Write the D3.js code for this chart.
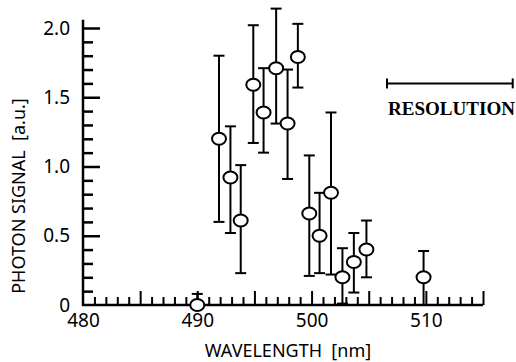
<!DOCTYPE html>
<html>
<head>
<meta charset="utf-8">
<script src="https://cdn.jsdelivr.net/npm/d3@7"></script>
<style>
  body { margin: 0; background: #fff; }
  svg text { font-family: "Noto Sans", "Open Sans", sans-serif; fill: #000; white-space: pre; }
</style>
</head>
<body>
<div id="chart"></div>
<script>
// data
const wavelength = [490, 491.9, 492.9, 493.8, 494.9, 495.8, 496.9, 497.9, 498.8, 499.8, 500.7, 501.7, 502.7, 503.7, 504.8, 509.8];
const signal     = [0, 1.20, 0.92, 0.61, 1.59, 1.39, 1.71, 1.31, 1.79, 0.66, 0.50, 0.81, 0.20, 0.31, 0.40, 0.20];
const errLow     = [0, 0.60, 0.52, 0.23, 1.17, 1.10, 1.31, 0.91, 1.57, 0.21, 0.23, 0.22, 0.01, 0.09, 0.20, 0];
const errHigh    = [0.08, 1.80, 1.29, 1.01, 2.02, 1.71, 2.14, 1.70, 2.03, 1.08, 0.81, 1.39, 0.41, 0.52, 0.61, 0.39];

const xMajor = [480, 490, 500, 510];
const yMajor = [0, 0.5, 1.0, 1.5, 2.0];
const yLabels = ["0", "0.5", "1.0", "1.5", "2.0"];

// resolution bar (nm span, at signal level)
const resolution = {from: 506.6, to: 517.6, level: 1.6};

const W = 516, H = 362;
const margin = {top: 28, right: 33, bottom: 57, left: 83};

const svg = d3.select("#chart")
  .append("svg")
  .attr("width", W)
  .attr("height", H);

const x = d3.scaleLinear().domain([480, 515]).range([margin.left, W - margin.right]);
const y = d3.scaleLinear().domain([0, 2]).range([H - margin.bottom, margin.top]);

const data = wavelength.map((w, i) => ({w, s: signal[i], lo: errLow[i], hi: errHigh[i]}));

// x axis: minor ticks every 1 nm, longer every 5 nm, pointing up
const xAxisG = svg.append("g").attr("transform", `translate(0, ${y(0)})`);
xAxisG.append("g")
  .call(d3.axisBottom(x).tickValues(d3.range(481, 516, 1).filter(d => d % 5 != 0)).tickSize(-8).tickFormat(""))
  .call(g => g.select(".domain").remove());
xAxisG.append("g")
  .call(d3.axisBottom(x).tickValues(d3.range(485, 516, 5)).tickSize(-14).tickFormat(""))
  .call(g => g.select(".domain").remove());
xAxisG.append("g")
  .call(d3.axisBottom(x).tickValues(xMajor).tickSize(0).tickPadding(9).tickFormat(d3.format("d")))
  .call(g => g.select(".domain").remove())
  .selectAll("text").style("font-size", "19px");
xAxisG.selectAll(".tick line").attr("stroke", "#000").attr("stroke-width", 2);
xAxisG.append("line")
  .attr("x1", x(480) - 1).attr("x2", x(515))
  .attr("stroke", "#000").attr("stroke-width", 2.5);

// y axis: minor every 0.1, major every 0.5, pointing right
const yAxisG = svg.append("g").attr("transform", `translate(${x(480)}, 0)`);
yAxisG.append("g")
  .call(d3.axisLeft(y).tickValues(d3.range(1, 21).map(d => d / 10).filter((d, i) => (i + 1) % 5 != 0)).tickSize(-10).tickFormat(""))
  .call(g => g.select(".domain").remove());
yAxisG.append("g")
  .call(d3.axisLeft(y).tickValues(yMajor.slice(1)).tickSize(-17).tickFormat(""))
  .call(g => g.select(".domain").remove());
yAxisG.append("g")
  .call(d3.axisLeft(y).tickValues(yMajor).tickSize(0).tickPadding(13).tickFormat((d, i) => yLabels[i]))
  .call(g => g.select(".domain").remove())
  .selectAll("text").style("font-size", "19px");
yAxisG.selectAll(".tick line").attr("stroke", "#000").attr("stroke-width", 2.5);
yAxisG.append("line")
  .attr("y1", y(0) + 1).attr("y2", y(2.06))
  .attr("stroke", "#000").attr("stroke-width", 2.5);

// axis titles
svg.append("text")
  .attr("x", 288).attr("y", 357)
  .attr("text-anchor", "middle")
  .style("font-size", "18px")
  .text("WAVELENGTH  [nm]");

svg.append("text")
  .attr("transform", `translate(25, ${196}) rotate(-90)`)
  .attr("text-anchor", "middle")
  .style("font-size", "18px")
  .text("PHOTON SIGNAL  [a.u.]");

// error bars
const cap = 5.5;
const bars = svg.append("g").attr("stroke", "#000").attr("stroke-width", 2).attr("fill", "none");
bars.selectAll("line.v").data(data).join("line")
  .attr("class", "v")
  .attr("x1", d => x(d.w)).attr("x2", d => x(d.w))
  .attr("y1", d => y(d.lo)).attr("y2", d => y(d.hi));
bars.selectAll("line.top").data(data).join("line")
  .attr("class", "top")
  .attr("x1", d => x(d.w) - cap).attr("x2", d => x(d.w) + cap)
  .attr("y1", d => y(d.hi)).attr("y2", d => y(d.hi));
bars.selectAll("line.bot").data(data.filter(d => d.lo > 0)).join("line")
  .attr("class", "bot")
  .attr("x1", d => x(d.w) - cap).attr("x2", d => x(d.w) + cap)
  .attr("y1", d => y(d.lo)).attr("y2", d => y(d.lo));

// points
svg.append("g").selectAll("ellipse").data(data).join("ellipse")
  .attr("cx", d => x(d.w)).attr("cy", d => y(d.s))
  .attr("rx", 7).attr("ry", 6)
  .attr("fill", "#fff").attr("stroke", "#000").attr("stroke-width", 2);

// resolution marker
const res = svg.append("g").attr("stroke", "#000").attr("stroke-width", 2);
res.append("line")
  .attr("x1", x(resolution.from)).attr("x2", x(resolution.to))
  .attr("y1", y(resolution.level)).attr("y2", y(resolution.level));
res.selectAll("line.end").data([resolution.from, resolution.to]).join("line")
  .attr("class", "end")
  .attr("x1", d => x(d)).attr("x2", d => x(d))
  .attr("y1", y(resolution.level) - 5).attr("y2", y(resolution.level) + 5);
svg.append("text")
  .attr("x", x(resolution.from) + 1).attr("y", 115)
  .attr("textLength", 127)
  .attr("lengthAdjust", "spacingAndGlyphs")
  .style("font-family", "'Liberation Serif', 'DejaVu Serif', serif")
  .style("font-size", "18px")
  .style("font-weight", "bold")
  .text("RESOLUTION");
</script>
</body>
</html>
